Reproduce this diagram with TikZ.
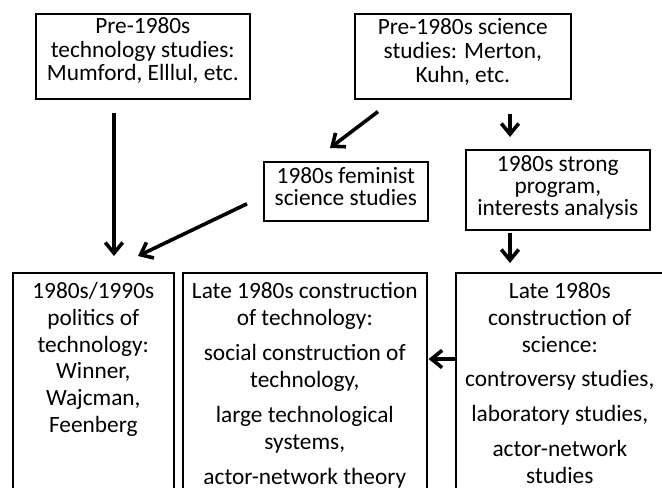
\documentclass[tikz,border=0pt]{standalone}
\usepackage{fontspec}
\setmainfont{Carlito}
\usetikzlibrary{arrows.meta,calc}
% width, height, first-baseline, baselineskip, text
\newcommand{\bxt}[5]{\parbox[t][#2][t]{#1}{\fontsize{17.5}{#4}\selectfont\centering\rule{0pt}{#3}\ignorespaces#5\par}}
\begin{document}
\begin{tikzpicture}[x=0.75pt,y=-0.75pt,
  box/.style={draw, line width=1.2pt, inner sep=0pt, anchor=north west},
  arr/.style={line width=2.7pt, -{Straight Barb[length=8pt,width=13pt]}}]
\useasboundingbox (0,0) rectangle (662,487);
\clip (0,0) rectangle (662,487);

\node[box] (A) at (35,13) {\bxt{160.5pt}{63.75pt}{15pt}{17.6pt}{Pre-1980s\\technology studies:\\Mumford, Elllul, etc.}};
\node[box] (B) at (354,13) {\bxt{162pt}{63.75pt}{15.5pt}{18pt}{Pre-1980s science\\studies: Merton,\\Kuhn, etc.}};
\node[box] (C) at (263,161) {\bxt{123pt}{44.25pt}{16.2pt}{16.4pt}{1980s feminist\\science studies}};
\node[box] (D) at (465,149) {\bxt{138pt}{60pt}{16.6pt}{16.4pt}{1980s strong\\program,\\interests analysis}};
\node[box] (E) at (12,272) {\bxt{120.75pt}{195pt}{19.5pt}{20pt}{1980s/1990s\\politics of\\technology:\\Winner,\\Wajcman,\\Feenberg}};
\node[box] (F) at (182,272) {\bxt{183pt}{195pt}{19.5pt}{20.25pt}{Late 1980s construction\\of technology:\\[6pt]social construction of\\technology,\\[6pt]large technological\\systems,\\[6pt]actor-network theory}};
\node[box] (G) at (455,272) {\bxt{156pt}{195pt}{19.5pt}{20.25pt}{Late 1980s\\construction of\\science:\\[5pt]controversy studies,\\[6pt]laboratory studies,\\[6pt]actor-network\\studies}};

\draw[arr] ($(A.south west)+(79,13)$) -- ($(E.north west)+(102,-16)$);
\draw[arr] ($(C.west)+(-16,12.5)$) -- ($(E.north west)+(126,-16)$);
\draw[arr] ($(B.south west)+(24,12)$) -- ($(C.north west)+(67,-13)$);
\draw[arr] ($(B.south west)+(156,14)$) -- ($(D.north west)+(45,-12)$);
\draw[arr] ($(D.south west)+(45,2)$) -- ($(G.north west)+(55,-9)$);
\draw[arr] ($(G.north west)+(0,87)$) -- ($(F.north east)+(1,87)$);
\end{tikzpicture}
\end{document}
